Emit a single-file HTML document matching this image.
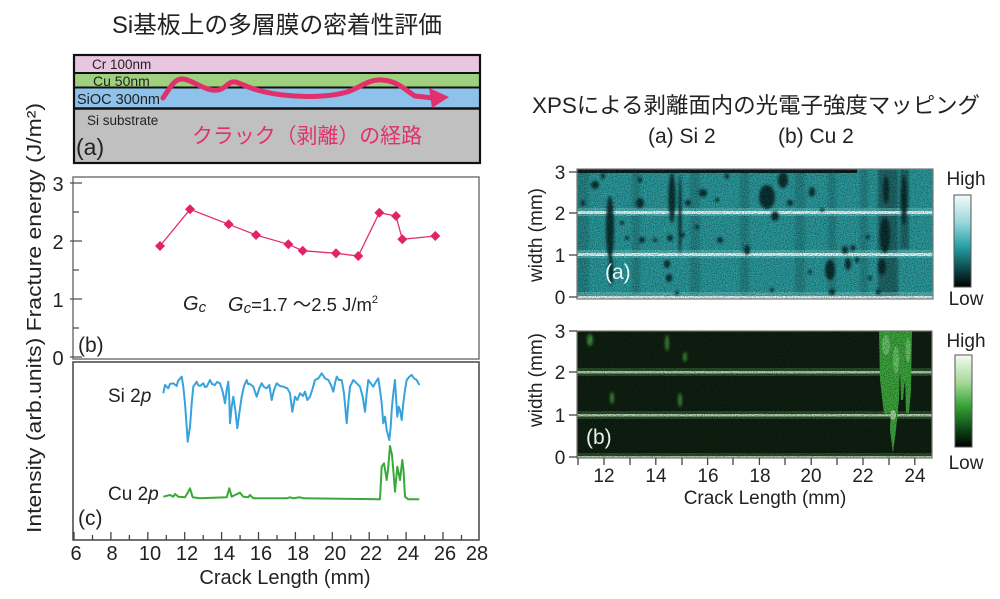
<!DOCTYPE html>
<html><head><meta charset="utf-8">
<style>
html,body{margin:0;padding:0;background:#fff;}
svg{display:block;}
text{font-family:"Liberation Sans","Noto Sans CJK JP",sans-serif;}
</style></head>
<body>
<svg width="1000" height="599" viewBox="0 0 1000 599" xmlns="http://www.w3.org/2000/svg">
<defs>
  <filter id="noise" x="0" y="0" width="100%" height="100%">
    <feTurbulence type="fractalNoise" baseFrequency="0.9" numOctaves="2" seed="5"/>
    <feColorMatrix type="matrix" values="0 0 0 0 0  0 0 0 0 0  0 0 0 0 0  1.1 0 0 0 -0.42"/>
  </filter>
  <filter id="noiseW" x="0" y="0" width="100%" height="100%">
    <feTurbulence type="fractalNoise" baseFrequency="0.9" numOctaves="2" seed="11"/>
    <feColorMatrix type="matrix" values="0 0 0 0 1  0 0 0 0 1  0 0 0 0 1  1.1 0 0 0 -0.5"/>
  </filter>
  <filter id="blur1"><feGaussianBlur stdDeviation="1.4"/></filter>
  <clipPath id="clipA"><rect x="577" y="169" width="356" height="130"/></clipPath>
  <clipPath id="clipB"><rect x="577" y="331" width="355" height="127"/></clipPath>
  <linearGradient id="gA" x1="0" y1="0" x2="0" y2="1">
    <stop offset="0" stop-color="#f2fbfc"/>
    <stop offset="0.3" stop-color="#9ad6dc"/>
    <stop offset="0.55" stop-color="#2ba3a9"/>
    <stop offset="0.8" stop-color="#0b4a4d"/>
    <stop offset="1" stop-color="#000"/>
  </linearGradient>
  <linearGradient id="gB" x1="0" y1="0" x2="0" y2="1">
    <stop offset="0" stop-color="#f3fbf1"/>
    <stop offset="0.3" stop-color="#a5d898"/>
    <stop offset="0.55" stop-color="#38a436"/>
    <stop offset="0.8" stop-color="#0e4a18"/>
    <stop offset="1" stop-color="#000"/>
  </linearGradient>
</defs>

<!-- ============ LEFT ============ -->
<text x="112" y="33" font-size="24" textLength="330" lengthAdjust="spacingAndGlyphs" fill="#222">Si基板上の多層膜の密着性評価</text>

<!-- layered diagram -->
<rect x="74" y="55" width="406" height="108" fill="#bdbdbd"/>
<rect x="74" y="55" width="406" height="17" fill="#e9c6df"/>
<rect x="74" y="74" width="406" height="13" fill="#9fd07e"/>
<rect x="74" y="88" width="406" height="19" fill="#8fc2ea"/>
<rect x="74" y="110" width="406" height="52" fill="#c0c0c0"/>
<line x1="74" y1="73" x2="480" y2="73" stroke="#111" stroke-width="2"/>
<line x1="74" y1="87.5" x2="480" y2="87.5" stroke="#111" stroke-width="2"/>
<line x1="74" y1="108.5" x2="480" y2="108.5" stroke="#111" stroke-width="2.5"/>
<rect x="74" y="55" width="406" height="108" fill="none" stroke="#111" stroke-width="2.2"/>
<text x="92" y="69" font-size="13.5" fill="#222">Cr 100nm</text>
<text x="93" y="86" font-size="14" fill="#222">Cu 50nm</text>
<text x="77" y="104" font-size="14.5" fill="#222">SiOC 300nm</text>
<text x="87" y="125" font-size="13.5" fill="#222">Si substrate</text>
<text x="76" y="155" font-size="23" fill="#222">(a)</text>
<text x="192" y="143" font-size="21" textLength="230" lengthAdjust="spacingAndGlyphs" fill="#e2306c">クラック（剥離）の経路</text>
<path d="M163,98 C170,88 174,79 182,79 C192,79 205,92 218,90 C226,89 228,81 235,82 C242,83 250,91 283,95 C300,97 330,98 350,91 C362,86 370,79 382,80 C398,81 405,90 415,96 L433,98" fill="none" stroke="#e2306c" stroke-width="5" stroke-linecap="round" stroke-linejoin="round"/>
<polygon points="429,88 449,97 432,108" fill="#e2306c"/>

<!-- y label -->
<text transform="translate(41,318) rotate(-90)" x="0" y="0" font-size="20" text-anchor="middle" textLength="430" lengthAdjust="spacingAndGlyphs" fill="#222">Intensity (arb.units) Fracture energy (J/m²)</text>

<!-- (b) panel -->
<rect x="73" y="177" width="406" height="182" fill="none" stroke="#777" stroke-width="1.5"/>
<g stroke="#555" stroke-width="1.3">
  <line x1="70" y1="183" x2="82" y2="183"/>
  <line x1="73" y1="212" x2="79" y2="212"/>
  <line x1="70" y1="241" x2="82" y2="241"/>
  <line x1="73" y1="270" x2="79" y2="270"/>
  <line x1="70" y1="299" x2="82" y2="299"/>
  <line x1="73" y1="328" x2="79" y2="328"/>
  <line x1="70" y1="357" x2="82" y2="357"/>
</g>
<g font-size="20" fill="#222" text-anchor="middle">
  <text x="58" y="191">3</text>
  <text x="58" y="249">2</text>
  <text x="58" y="307">1</text>
  <text x="58" y="365">0</text>
</g>
<polyline points="160,246 190,209.3 228.7,224.3 256,235 288.3,244.3 302.7,250.7 336,253.3 358.3,256 379.3,212.7 396,216 402.3,239.3 435.3,236" fill="none" stroke="#e2306c" stroke-width="1.3"/>
<g fill="#e0246a">
  <polygon points="160,241 165,246 160,251 155,246"/>
  <polygon points="190,204.3 195,209.3 190,214.3 185,209.3"/>
  <polygon points="228.7,219.3 233.7,224.3 228.7,229.3 223.7,224.3"/>
  <polygon points="256,230 261,235 256,240 251,235"/>
  <polygon points="288.3,239.3 293.3,244.3 288.3,249.3 283.3,244.3"/>
  <polygon points="302.7,245.7 307.7,250.7 302.7,255.7 297.7,250.7"/>
  <polygon points="336,248.3 341,253.3 336,258.3 331,253.3"/>
  <polygon points="358.3,251 363.3,256 358.3,261 353.3,256"/>
  <polygon points="379.3,207.7 384.3,212.7 379.3,217.7 374.3,212.7"/>
  <polygon points="396,211 401,216 396,221 391,216"/>
  <polygon points="402.3,234.3 407.3,239.3 402.3,244.3 397.3,239.3"/>
  <polygon points="435.3,231 440.3,236 435.3,241 430.3,236"/>
</g>
<text x="183" y="310" font-size="20" font-style="italic" fill="#222">G<tspan font-size="15" dy="2">c</tspan></text>
<text x="228" y="311" font-size="18.5" fill="#222"><tspan font-style="italic" font-size="20">G</tspan><tspan font-style="italic" font-size="15" dy="2">c</tspan><tspan dy="-2">=1.7 ～2.5 J/m</tspan><tspan font-size="11" dy="-8">2</tspan></text>
<text x="78" y="352" font-size="21" fill="#222">(b)</text>

<!-- (c) panel -->
<rect x="73" y="362" width="406" height="178" fill="none" stroke="#444" stroke-width="1.5"/>
<g stroke="#444" stroke-width="1.3">
  <line x1="74" y1="540" x2="74" y2="532"/><line x1="92.5" y1="540" x2="92.5" y2="535"/>
  <line x1="110.9" y1="540" x2="110.9" y2="532"/><line x1="129.4" y1="540" x2="129.4" y2="535"/>
  <line x1="147.8" y1="540" x2="147.8" y2="532"/><line x1="166.3" y1="540" x2="166.3" y2="535"/>
  <line x1="184.7" y1="540" x2="184.7" y2="532"/><line x1="203.2" y1="540" x2="203.2" y2="535"/>
  <line x1="221.6" y1="540" x2="221.6" y2="532"/><line x1="240.1" y1="540" x2="240.1" y2="535"/>
  <line x1="258.5" y1="540" x2="258.5" y2="532"/><line x1="277" y1="540" x2="277" y2="535"/>
  <line x1="295.4" y1="540" x2="295.4" y2="532"/><line x1="313.9" y1="540" x2="313.9" y2="535"/>
  <line x1="332.3" y1="540" x2="332.3" y2="532"/><line x1="350.8" y1="540" x2="350.8" y2="535"/>
  <line x1="369.2" y1="540" x2="369.2" y2="532"/><line x1="387.7" y1="540" x2="387.7" y2="535"/>
  <line x1="406.1" y1="540" x2="406.1" y2="532"/><line x1="424.6" y1="540" x2="424.6" y2="535"/>
  <line x1="443" y1="540" x2="443" y2="532"/><line x1="461.5" y1="540" x2="461.5" y2="535"/>
</g>
<g font-size="20" fill="#222" text-anchor="middle">
  <text x="76" y="560">6</text>
  <text x="112" y="560">8</text>
  <text x="150" y="560">10</text>
  <text x="187" y="560">12</text>
  <text x="224" y="560">14</text>
  <text x="261" y="560">16</text>
  <text x="298" y="560">18</text>
  <text x="335" y="560">20</text>
  <text x="371" y="560">22</text>
  <text x="408" y="560">24</text>
  <text x="445" y="560">26</text>
  <text x="477" y="560">28</text>
</g>
<text x="285" y="584" font-size="20" text-anchor="middle" fill="#222">Crack Length (mm)</text>
<text x="108" y="402" font-size="19" fill="#222">Si 2<tspan font-style="italic">p</tspan></text>
<text x="108" y="500" font-size="19" fill="#222">Cu 2<tspan font-style="italic">p</tspan></text>
<text x="78" y="525" font-size="21" fill="#222">(c)</text>

<polyline fill="none" stroke="#37a2dc" stroke-width="2" stroke-linejoin="round" points="163.3,393.3 165,385 168.3,388.3 170,384 173.3,383.3 176.7,386 178,381 181.7,376.7 183.3,386.7 185,403.3 186.7,426.7 187.7,441.7 190,426.7 191.7,403.3 193.3,386.7 196.7,381.7 198,385 200,386 203.3,383.3 205,387 206.7,386.7 210,380 212,384 215,385 217,382 220,383.3 222.7,391.7 225,403.3 226.7,390 228.3,381.7 229.3,400 230,423.3 231.7,406.7 233.3,396.7 235.3,410 237.3,428.3 239.3,413.3 241.7,396.7 244,386 246.7,380 248,384 250,384 253.3,386.7 256.7,396.7 259.3,388.3 261.7,383.3 264,387 266.7,388.3 269.3,385 271.7,400 274,390 276.7,383.3 280,386 283.3,386.7 287.3,388.3 290,393.3 292.3,411.7 295,396.7 297.3,400 300,393.3 303,396 305,391.7 307.3,400 310,396.7 312.7,388.3 315,380 318.3,378.3 320,376 321.7,373.3 325,378.3 328.3,380 331,385 333.3,391.7 335,383.3 336.7,376.7 339,380 341.7,380 344,393.3 346.7,423.3 348.3,403.3 350,386.7 353.3,380 356.7,383.3 360,386.7 362.7,396.7 365,411.7 366.7,393.3 368.3,380 370.7,383.3 373.3,386.7 376,381.7 378.3,378.3 380,390 381.7,403.3 383.3,423.3 385,416.7 386.7,430 389.3,440 390.7,426.7 391.7,410 393.3,393.3 395,380 396,396.7 397.3,416.7 398.7,406.7 400,410 401.7,420 403.3,403.3 405,390 406.7,380 409.3,376.7 411.7,375 414,378.3 416.7,380 419.3,385"/>
<polyline fill="none" stroke="#3aa83a" stroke-width="2" stroke-linejoin="round" points="163.3,496.7 170,495 173.3,496.7 175,494 178.3,496.7 185,497.3 188.3,491.7 190,488.3 192.7,497.3 200,498.3 226.7,497.3 229.3,488.3 231.7,496.7 235,495 240,492.7 243.3,496.7 248.3,497.3 250,495 253.3,498.3 286.7,498.3 290,497.3 293.3,498.3 300,497.3 303.3,498.3 380,499.3 381.7,466.7 384,463.3 386.7,480 388,470 390,446 392,455 393.3,470 395,491.7 397.3,466.7 399,475 400,480 402.3,460 403.5,470 405,496.7 408.3,499.3 419.3,499.3"/>

<!-- ============ RIGHT ============ -->
<text x="532" y="113" font-size="22" textLength="448" lengthAdjust="spacingAndGlyphs" fill="#222">XPSによる剥離面内の光電子強度マッピング</text>
<text x="648" y="143" font-size="21" fill="#222">(a) Si 2</text>
<text x="778" y="143" font-size="21" fill="#222">(b) Cu 2</text>

<!-- map (a) -->
<g clip-path="url(#clipA)">
  <rect x="577" y="169" width="356" height="130" fill="#24999c"/>
  <g fill="#000" opacity="0.14" filter="url(#blur1)">
    <rect x="577" y="169" width="12" height="130"/>
    <rect x="632" y="169" width="8" height="130"/>
    <rect x="690" y="169" width="10" height="130"/>
    <rect x="740" y="169" width="9" height="130"/>
    <rect x="795" y="169" width="10" height="130"/>
    <rect x="828" y="169" width="8" height="130"/>
    <rect x="860" y="169" width="8" height="130"/>
  </g>
  <rect x="878" y="169" width="20" height="130" fill="#000" opacity="0.35" filter="url(#blur1)"/>
  <rect x="900" y="169" width="9" height="80" fill="#000" opacity="0.35" filter="url(#blur1)"/>
  <rect x="577" y="169" width="280" height="4" fill="#061818"/>
  <!-- bright lines -->
  <g fill="#6fd0d0" opacity="0.5">
    <rect x="577" y="208" width="356" height="8"/>
    <rect x="577" y="250" width="356" height="8"/>
    <rect x="577" y="292" width="356" height="8"/>
  </g>
  <g fill="#e6fafa">
    <rect x="577" y="211" width="356" height="3"/>
    <rect x="577" y="253" width="356" height="3"/>
    <rect x="577" y="296" width="356" height="3"/>
  </g>
  <!-- dark blobs -->
  <g fill="#052020" filter="url(#blur1)" opacity="0.92">
    <ellipse cx="595" cy="185" rx="4" ry="4"/>
    <ellipse cx="583" cy="203" rx="2" ry="3"/>
    <ellipse cx="610" cy="228" rx="4" ry="32"/>
    <ellipse cx="611" cy="270" rx="2" ry="16"/>
    <ellipse cx="603" cy="176" rx="2" ry="3"/>
    <ellipse cx="640" cy="203" rx="4" ry="5"/>
    <ellipse cx="640" cy="180" rx="2" ry="3"/>
    <ellipse cx="622" cy="223" rx="2" ry="2"/>
    <ellipse cx="627" cy="238" rx="2" ry="2"/>
    <ellipse cx="642" cy="240" rx="3" ry="3"/>
    <ellipse cx="655" cy="240" rx="2" ry="2"/>
    <ellipse cx="672" cy="198" rx="3.5" ry="25"/>
    <ellipse cx="680" cy="215" rx="1.6" ry="40"/>
    <ellipse cx="670" cy="238" rx="3" ry="3"/>
    <ellipse cx="667" cy="264" rx="3" ry="4"/>
    <ellipse cx="669" cy="278" rx="3" ry="4"/>
    <ellipse cx="683" cy="235" rx="2" ry="2"/>
    <ellipse cx="688" cy="203" rx="3" ry="3"/>
    <ellipse cx="697" cy="227" rx="2" ry="2"/>
    <ellipse cx="703" cy="193" rx="4" ry="4"/>
    <ellipse cx="720" cy="240" rx="3" ry="3"/>
    <ellipse cx="717" cy="200" rx="2" ry="2"/>
    <ellipse cx="727" cy="176" rx="2" ry="3"/>
    <ellipse cx="747" cy="250" rx="3" ry="5"/>
    <ellipse cx="677" cy="293" rx="2" ry="2"/>
    <ellipse cx="767" cy="197" rx="8" ry="12"/>
    <ellipse cx="775" cy="216" rx="4" ry="5"/>
    <ellipse cx="783" cy="180" rx="5" ry="8"/>
    <ellipse cx="790" cy="203" rx="3" ry="3"/>
    <ellipse cx="812" cy="192" rx="3" ry="5"/>
    <ellipse cx="822" cy="210" rx="2" ry="2"/>
    <ellipse cx="830" cy="270" rx="5" ry="10"/>
    <ellipse cx="832" cy="292" rx="3" ry="3"/>
    <ellipse cx="845" cy="250" rx="3" ry="4"/>
    <ellipse cx="848" cy="264" rx="3" ry="6"/>
    <ellipse cx="853" cy="248" rx="2.5" ry="3"/>
    <ellipse cx="857" cy="260" rx="2" ry="3"/>
    <ellipse cx="868" cy="237" rx="2" ry="2"/>
    <ellipse cx="870" cy="278" rx="2" ry="2"/>
    <ellipse cx="772" cy="290" rx="2" ry="2"/>
    <ellipse cx="810" cy="272" rx="2" ry="2"/>
    <ellipse cx="885" cy="235" rx="5" ry="18"/>
    <ellipse cx="882" cy="267" rx="4" ry="8"/>
    <ellipse cx="878" cy="292" rx="2" ry="3"/>
    <ellipse cx="886" cy="190" rx="3" ry="14"/>
    <ellipse cx="904" cy="200" rx="3" ry="25"/>
  </g>
  <rect x="577" y="169" width="356" height="130" filter="url(#noise)"/>
  <rect x="577" y="169" width="356" height="130" filter="url(#noiseW)" opacity="0.35"/>
</g>
<rect x="577" y="169" width="356" height="130" fill="none" stroke="#777" stroke-width="1.2"/>
<text x="605" y="279" font-size="21" fill="#e8f6f6">(a)</text>

<!-- map (b) -->
<g clip-path="url(#clipB)">
  <rect x="577" y="331" width="355" height="127" fill="#0f2011"/>
  <g fill="#5aa85a" opacity="0.35">
    <rect x="577" y="368" width="355" height="8"/>
    <rect x="577" y="411" width="355" height="8"/>
    <rect x="577" y="453" width="355" height="8"/>
  </g>
  <g fill="#cfe8c8" opacity="0.85">
    <rect x="577" y="371" width="355" height="2.5"/>
    <rect x="577" y="414" width="355" height="2.5"/>
    <rect x="577" y="456" width="355" height="2.5"/>
  </g>
  <g fill="#3c8f3c" filter="url(#blur1)">
    <ellipse cx="590" cy="340" rx="3" ry="6"/>
    <ellipse cx="667" cy="343" rx="2" ry="8"/>
    <ellipse cx="685" cy="357" rx="2" ry="5"/>
    <ellipse cx="612" cy="398" rx="2" ry="6"/>
    <ellipse cx="680" cy="400" rx="2" ry="7"/>
  </g>
  <g fill="#3da83d">
    <path d="M879,331 L895,331 L894,390 L891,413 L884,414 L880,380 Z"/>
    <path d="M891,331 L901,331 L899,400 L896,430 L893,453 L890,430 L891,400 Z"/>
    <path d="M900,331 L906,331 L905,380 L903,400 L901,400 L900,370 Z"/>
    <path d="M905,331 L912,331 L911,390 L909,413 L906,413 L905,380 Z"/>
  </g>
  <g fill="#7fd07f" opacity="0.7">
    <ellipse cx="886" cy="345" rx="4" ry="10"/>
    <ellipse cx="896" cy="360" rx="3" ry="14"/>
    <ellipse cx="908" cy="350" rx="2.5" ry="12"/>
    <ellipse cx="893" cy="415" rx="3" ry="5" fill="#cfe8c8"/>
  </g>
  <rect x="577" y="331" width="355" height="127" filter="url(#noise)"/>
</g>
<rect x="577" y="331" width="355" height="127" fill="none" stroke="#777" stroke-width="1.2"/>
<text x="586" y="444" font-size="21" fill="#e8f2e8">(b)</text>

<!-- right y axes -->
<g stroke="#444" stroke-width="1.3">
  <line x1="569" y1="172" x2="577" y2="172"/>
  <line x1="569" y1="213" x2="577" y2="213"/>
  <line x1="569" y1="255" x2="577" y2="255"/>
  <line x1="569" y1="297" x2="577" y2="297"/>
  <line x1="569" y1="331" x2="577" y2="331"/>
  <line x1="569" y1="372" x2="577" y2="372"/>
  <line x1="569" y1="415" x2="577" y2="415"/>
  <line x1="569" y1="457" x2="577" y2="457"/>
</g>
<g font-size="19" fill="#222" text-anchor="middle">
  <text x="560" y="179">3</text>
  <text x="560" y="220">2</text>
  <text x="560" y="262">1</text>
  <text x="560" y="304">0</text>
  <text x="560" y="338">3</text>
  <text x="560" y="379">2</text>
  <text x="560" y="422">1</text>
  <text x="560" y="464">0</text>
</g>
<text transform="translate(542,235) rotate(-90)" font-size="19" text-anchor="middle" fill="#222">width (mm)</text>
<text transform="translate(542,380) rotate(-90)" font-size="19" text-anchor="middle" fill="#222">width (mm)</text>

<!-- right x axis -->
<g stroke="#444" stroke-width="1.3">
  <line x1="578" y1="458" x2="578" y2="465"/>
  <line x1="604" y1="458" x2="604" y2="465"/>
  <line x1="630" y1="458" x2="630" y2="465"/>
  <line x1="655.8" y1="458" x2="655.8" y2="465"/>
  <line x1="682" y1="458" x2="682" y2="465"/>
  <line x1="707.6" y1="458" x2="707.6" y2="465"/>
  <line x1="733" y1="458" x2="733" y2="465"/>
  <line x1="759.4" y1="458" x2="759.4" y2="465"/>
  <line x1="785" y1="458" x2="785" y2="465"/>
  <line x1="811.2" y1="458" x2="811.2" y2="465"/>
  <line x1="837" y1="458" x2="837" y2="465"/>
  <line x1="863" y1="458" x2="863" y2="465"/>
  <line x1="889" y1="458" x2="889" y2="465"/>
  <line x1="914.8" y1="458" x2="914.8" y2="465"/>
</g>
<g font-size="19" fill="#222" text-anchor="middle">
  <text x="604" y="482">12</text>
  <text x="656" y="482">14</text>
  <text x="708" y="482">16</text>
  <text x="760" y="482">18</text>
  <text x="811" y="482">20</text>
  <text x="863" y="482">22</text>
  <text x="915" y="482">24</text>
</g>
<text x="765" y="504" font-size="19" text-anchor="middle" fill="#222">Crack Length (mm)</text>

<!-- colorbars -->
<text x="966" y="185" font-size="19" text-anchor="middle" fill="#222">High</text>
<rect x="954" y="195" width="17" height="92" fill="url(#gA)" stroke="#555" stroke-width="1"/>
<text x="966" y="305" font-size="19" text-anchor="middle" fill="#222">Low</text>
<text x="966" y="347" font-size="19" text-anchor="middle" fill="#222">High</text>
<rect x="955" y="355" width="17" height="92" fill="url(#gB)" stroke="#555" stroke-width="1"/>
<text x="966" y="469" font-size="19" text-anchor="middle" fill="#222">Low</text>
</svg>
</body></html>
